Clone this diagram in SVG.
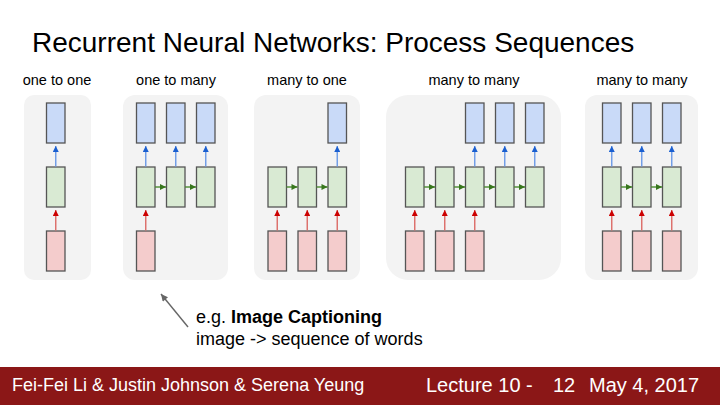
<svg xmlns="http://www.w3.org/2000/svg" width="720" height="405" viewBox="0 0 720 405">
<defs>
<style>
.t{font-family:"Liberation Sans",Arial,sans-serif;fill:#000}
.lab{font-size:14.5px;text-anchor:middle}
.panel{fill:#f3f3f3}
.b{fill:#c9daf8;stroke:#555;stroke-width:1.3}
.g{fill:#d9ead3;stroke:#555;stroke-width:1.3}
.r{fill:#f4cccc;stroke:#555;stroke-width:1.3}
.ab{stroke:#6a9ae6;stroke-width:1.4;fill:none}
.ar{stroke:#dc6a66;stroke-width:1.4;fill:none}
.ag{stroke:#4a8a2e;stroke-width:1.4;fill:none}
</style>
<marker id="hb" viewBox="0 0 10 10" refX="10" refY="5" markerWidth="7" markerHeight="6" markerUnits="userSpaceOnUse" orient="auto"><path d="M0,0L10,5L0,10Z" fill="#1a5fd0"/></marker>
<marker id="hr" viewBox="0 0 10 10" refX="10" refY="5" markerWidth="7" markerHeight="6" markerUnits="userSpaceOnUse" orient="auto"><path d="M0,0L10,5L0,10Z" fill="#cc0000"/></marker>
<marker id="hg" viewBox="0 0 10 10" refX="10" refY="5" markerWidth="7" markerHeight="6" markerUnits="userSpaceOnUse" orient="auto"><path d="M0,0L10,5L0,10Z" fill="#38761d"/></marker>
<marker id="hk" viewBox="0 0 10 10" refX="10" refY="5" markerWidth="9" markerHeight="7" markerUnits="userSpaceOnUse" orient="auto"><path d="M0,0L10,5L0,10Z" fill="#666"/></marker>
</defs>
<rect width="720" height="405" fill="#fff"/>
<text class="t" x="32" y="52" font-size="28">Recurrent Neural Networks: Process Sequences</text>

<g id="panels">
<rect class="panel" x="24" y="95" width="67" height="185" rx="10"/>
<rect class="panel" x="123" y="95" width="105" height="185" rx="12"/>
<rect class="panel" x="254" y="95" width="106" height="185" rx="12"/>
<rect class="panel" x="386" y="95" width="175" height="185" rx="22"/>
<rect class="panel" x="585" y="95" width="113" height="185" rx="12"/>
</g>
<g id="labels">
<text class="t lab" x="57" y="85">one to one</text>
<text class="t lab" x="176" y="85">one to many</text>
<text class="t lab" x="307" y="85">many to one</text>
<text class="t lab" x="474" y="85">many to many</text>
<text class="t lab" x="642" y="85">many to many</text>
</g>

<g id="one-to-one">
<rect class="b" x="46.5" y="103" width="18.5" height="40"/>
<rect class="g" x="46.5" y="167" width="18.5" height="40"/>
<rect class="r" x="46.5" y="231" width="18.5" height="40"/>
</g>
<g id="one-to-many">
<rect class="b" x="136.5" y="103" width="18.5" height="40"/>
<rect class="b" x="166.5" y="103" width="18.5" height="40"/>
<rect class="b" x="196.5" y="103" width="18.5" height="40"/>
<rect class="g" x="136.5" y="167" width="18.5" height="40"/>
<rect class="g" x="166.5" y="167" width="18.5" height="40"/>
<rect class="g" x="196.5" y="167" width="18.5" height="40"/>
<rect class="r" x="136.5" y="231" width="18.5" height="40"/>
</g>
<g id="many-to-one">
<rect class="b" x="328" y="103" width="18.5" height="40"/>
<rect class="g" x="268" y="167" width="18.5" height="40"/>
<rect class="g" x="298" y="167" width="18.5" height="40"/>
<rect class="g" x="328" y="167" width="18.5" height="40"/>
<rect class="r" x="268" y="231" width="18.5" height="40"/>
<rect class="r" x="298" y="231" width="18.5" height="40"/>
<rect class="r" x="328" y="231" width="18.5" height="40"/>
</g>
<g id="many-to-many-1">
<rect class="b" x="465.5" y="103" width="18.5" height="40"/>
<rect class="b" x="495.5" y="103" width="18.5" height="40"/>
<rect class="b" x="525.5" y="103" width="18.5" height="40"/>
<rect class="g" x="405.5" y="167" width="18.5" height="40"/>
<rect class="g" x="435.5" y="167" width="18.5" height="40"/>
<rect class="g" x="465.5" y="167" width="18.5" height="40"/>
<rect class="g" x="495.5" y="167" width="18.5" height="40"/>
<rect class="g" x="525.5" y="167" width="18.5" height="40"/>
<rect class="r" x="405.5" y="231" width="18.5" height="40"/>
<rect class="r" x="435.5" y="231" width="18.5" height="40"/>
<rect class="r" x="465.5" y="231" width="18.5" height="40"/>
</g>
<g id="many-to-many-2">
<rect class="b" x="602.5" y="103" width="18.5" height="40"/>
<rect class="b" x="632.5" y="103" width="18.5" height="40"/>
<rect class="b" x="662.5" y="103" width="18.5" height="40"/>
<rect class="g" x="602.5" y="167" width="18.5" height="40"/>
<rect class="g" x="632.5" y="167" width="18.5" height="40"/>
<rect class="g" x="662.5" y="167" width="18.5" height="40"/>
<rect class="r" x="602.5" y="231" width="18.5" height="40"/>
<rect class="r" x="632.5" y="231" width="18.5" height="40"/>
<rect class="r" x="662.5" y="231" width="18.5" height="40"/>
</g>

<g id="connectors">
<g class="ab" marker-end="url(#hb)">
<line x1="55.75" y1="166.5" x2="55.75" y2="146"/>
<line x1="145.75" y1="166.5" x2="145.75" y2="146"/>
<line x1="175.75" y1="166.5" x2="175.75" y2="146"/>
<line x1="205.75" y1="166.5" x2="205.75" y2="146"/>
<line x1="337.25" y1="166.5" x2="337.25" y2="146"/>
<line x1="474.75" y1="166.5" x2="474.75" y2="146"/>
<line x1="504.75" y1="166.5" x2="504.75" y2="146"/>
<line x1="534.75" y1="166.5" x2="534.75" y2="146"/>
<line x1="611.75" y1="166.5" x2="611.75" y2="146"/>
<line x1="641.75" y1="166.5" x2="641.75" y2="146"/>
<line x1="671.75" y1="166.5" x2="671.75" y2="146"/>
</g>
<g class="ar" marker-end="url(#hr)">
<line x1="55.75" y1="230.5" x2="55.75" y2="210"/>
<line x1="145.75" y1="230.5" x2="145.75" y2="210"/>
<line x1="277.25" y1="230.5" x2="277.25" y2="210"/>
<line x1="307.25" y1="230.5" x2="307.25" y2="210"/>
<line x1="337.25" y1="230.5" x2="337.25" y2="210"/>
<line x1="414.75" y1="230.5" x2="414.75" y2="210"/>
<line x1="444.75" y1="230.5" x2="444.75" y2="210"/>
<line x1="474.75" y1="230.5" x2="474.75" y2="210"/>
<line x1="611.75" y1="230.5" x2="611.75" y2="210"/>
<line x1="641.75" y1="230.5" x2="641.75" y2="210"/>
<line x1="671.75" y1="230.5" x2="671.75" y2="210"/>
</g>
<g class="ag" marker-end="url(#hg)">
<line x1="155" y1="187" x2="166" y2="187"/>
<line x1="185" y1="187" x2="196" y2="187"/>
<line x1="286.5" y1="187" x2="297.5" y2="187"/>
<line x1="316.5" y1="187" x2="327.5" y2="187"/>
<line x1="424" y1="187" x2="435" y2="187"/>
<line x1="454" y1="187" x2="465" y2="187"/>
<line x1="484" y1="187" x2="495" y2="187"/>
<line x1="514" y1="187" x2="525" y2="187"/>
<line x1="621" y1="187" x2="632" y2="187"/>
<line x1="651" y1="187" x2="662" y2="187"/>
</g>
<line x1="188" y1="327" x2="161" y2="294" stroke="#666" stroke-width="1.4" marker-end="url(#hk)"/>
</g>

<g id="caption">
<text class="t" x="196" y="323" font-size="18">e.g. <tspan font-weight="bold">Image Captioning</tspan></text>
<text class="t" x="196" y="345" font-size="18">image -&gt; sequence of words</text>
</g>

<g id="footer">
<rect x="0" y="367" width="720" height="38" fill="#8b1717"/>
<text class="t" x="12" y="391" font-size="18" style="fill:#fff">Fei-Fei Li &amp; Justin Johnson &amp; Serena Yeung</text>
<text class="t" x="426" y="392" font-size="20" style="fill:#fff">Lecture 10 -</text>
<text class="t" x="553" y="392" font-size="20" style="fill:#fff">12</text>
<text class="t" x="589" y="392" font-size="20" style="fill:#fff">May 4, 2017</text>
</g>
</svg>
